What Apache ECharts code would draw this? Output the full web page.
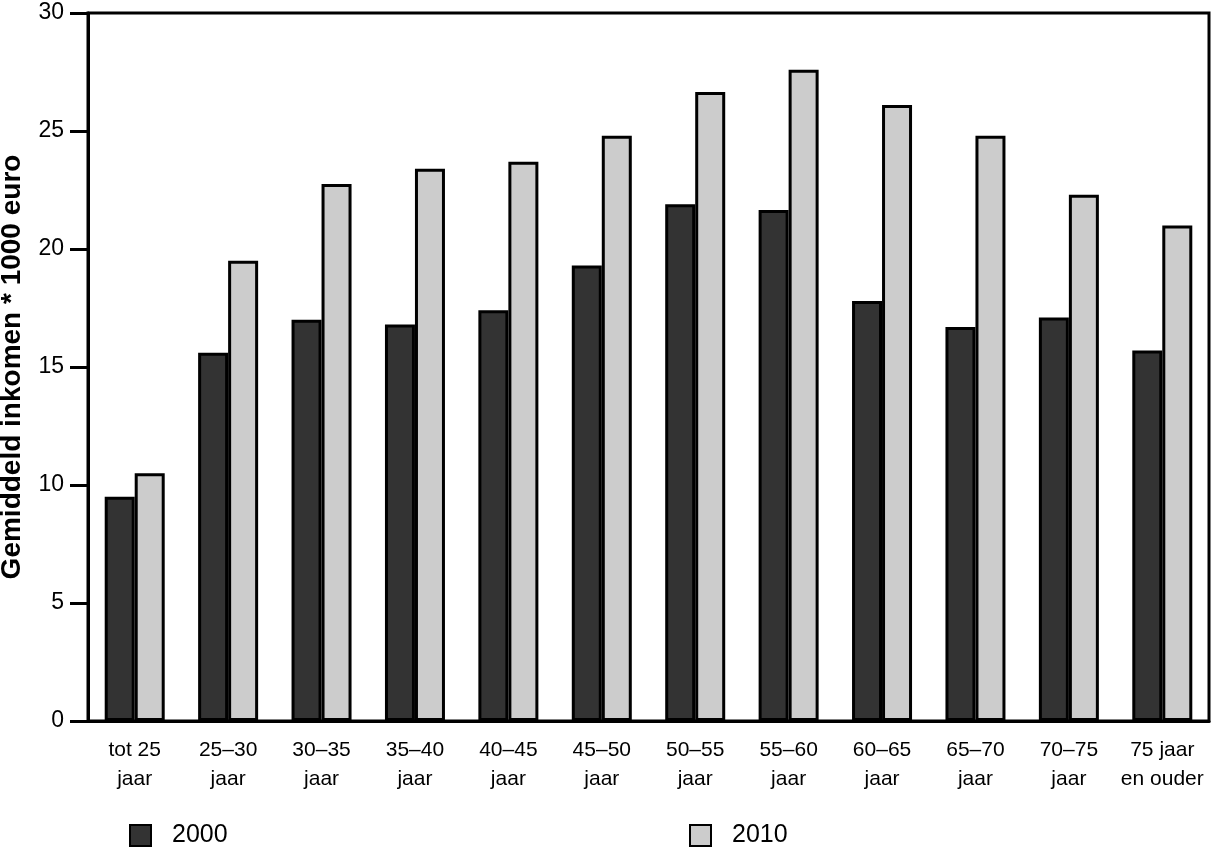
<!DOCTYPE html>
<html>
<head>
<meta charset="utf-8">
<script src="https://cdn.jsdelivr.net/npm/echarts@6/dist/echarts.min.js"></script>
<style>html,body{margin:0;padding:0;background:#fff;}#c{width:1212px;height:848px;}</style>
</head>
<body>
<div id="c"></div>
<script>
var categories = ['tot 25\njaar','25–30\njaar','30–35\njaar','35–40\njaar','40–45\njaar','45–50\njaar','50–55\njaar','55–60\njaar','60–65\njaar','65–70\njaar','70–75\njaar','75 jaar\nen ouder'];
var values2000 = [9.5, 15.6, 17.0, 16.8, 17.4, 19.3, 21.9, 21.65, 17.8, 16.7, 17.1, 15.7];
var values2010 = [10.5, 19.5, 22.75, 23.4, 23.7, 24.8, 26.65, 27.6, 26.1, 24.8, 22.3, 21.0];
var yTicks = [0, 5, 10, 15, 20, 25, 30];
var FONT = 'Liberation Sans';
var chart = echarts.init(document.getElementById('c'));
chart.setOption({
  animation: false,
  backgroundColor: '#fff',
  textStyle: {fontFamily: FONT, color: '#000'},
  grid: {left: 88, right: 3, top: 13, bottom: 127, show: true, borderColor: '#000', borderWidth: 3, backgroundColor: 'transparent', outerBoundsMode: 'none', containLabel: false},
  legend: [
    {data: ['2000'], left: 124, top: 818, icon: 'rect', itemWidth: 21, itemHeight: 21, itemGap: 20, textStyle: {fontSize: 25, fontFamily: FONT, color: '#000', padding: [0,0,0,16]}},
    {data: ['2010'], left: 684, top: 818, icon: 'rect', itemWidth: 21, itemHeight: 21, itemGap: 20, textStyle: {fontSize: 25, fontFamily: FONT, color: '#000', padding: [0,0,0,16]}}
  ],
  xAxis: {
    type: 'category',
    data: categories,
    axisLine: {lineStyle: {color: '#000', width: 3}},
    axisTick: {length: 18, lineStyle: {color: '#000', width: 3}},
    axisLabel: {fontSize: 21, lineHeight: 29, color: '#000', margin: 15, interval: 0, fontFamily: FONT}
  },
  yAxis: {
    type: 'value', min: 0, max: 30, interval: 5,
    name: 'Gemiddeld inkomen * 1000 euro',
    nameLocation: 'middle', nameGap: 62, nameRotate: 90,
    nameTextStyle: {fontSize: 28, fontWeight: 'bold', color: '#000', fontFamily: FONT},
    axisLine: {show: true, lineStyle: {color: '#000', width: 3}},
    axisTick: {show: true, length: 18, lineStyle: {color: '#000', width: 3}},
    axisLabel: {fontSize: 23, color: '#000', margin: 24, fontFamily: FONT,
      formatter: function(v){ return yTicks.indexOf(v) >= 0 ? String(v) : ''; }},
    splitLine: {show: false}
  },
  series: [
    {name: '2000', type: 'bar', data: values2000, barWidth: 30, barGap: '0%',
     itemStyle: {color: '#333333', borderColor: '#000', borderWidth: 3}},
    {name: '2010', type: 'bar', data: values2010, barWidth: 30, barGap: '0%',
     itemStyle: {color: '#cccccc', borderColor: '#000', borderWidth: 3}}
  ]
});
</script>
</body>
</html>
